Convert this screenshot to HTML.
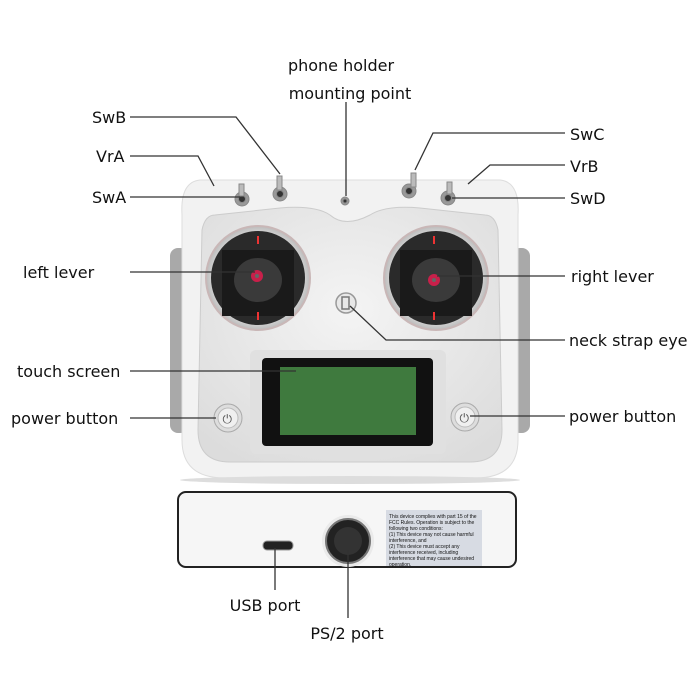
<!DOCTYPE html>
<html><head><meta charset="utf-8"><style>
html,body{margin:0;padding:0;background:#fff;}
svg{display:block;}
text{font-family:"DejaVu Sans","Liberation Sans",sans-serif;font-size:16px;fill:#111;}
</style></head><body>
<svg width="700" height="700" viewBox="0 0 700 700">
<defs>
<radialGradient id="body" cx="50%" cy="40%" r="70%"><stop offset="0" stop-color="#f4f4f4"/><stop offset="1" stop-color="#dcdcdc"/></radialGradient>
<radialGradient id="ring" cx="50%" cy="50%" r="50%"><stop offset="0.85" stop-color="#d8d8d8"/><stop offset="1" stop-color="#bbb"/></radialGradient>
</defs>
<rect x="170" y="248" width="18" height="185" rx="8" fill="#a9a9a9"/>
<rect x="512" y="248" width="18" height="185" rx="8" fill="#a9a9a9"/>
<path d="M200 180 Q180 182 182 215 L182 440 Q182 478 225 478 L475 478 Q518 478 518 440 L518 215 Q520 182 500 180 Z" fill="#f2f2f2" stroke="#ddd"/>
<path d="M215 215 Q205 215 202 230 L198 430 Q198 462 230 462 L470 462 Q502 462 502 430 L498 230 Q495 215 485 215 L420 208 Q385 205 370 215 Q345 228 330 215 Q315 205 280 208 Z" fill="url(#body)" stroke="#ccc"/>
<ellipse cx="350" cy="480" rx="170" ry="4" fill="#ddd"/>
<g>
<circle cx="258" cy="278" r="52" fill="url(#ring)" stroke="#c9b7b7" stroke-width="2"/>
<circle cx="258" cy="278" r="47" fill="#2a2a2a"/>
<rect x="222" y="250" width="72" height="66" fill="#1a1a1a"/>
<ellipse cx="258" cy="280" rx="24" ry="22" fill="#3a3a3a"/>
<circle cx="257" cy="276" r="6" fill="#c8204a"/><circle cx="257" cy="276" r="2" fill="#666"/>
<rect x="257" y="236" width="2" height="8" fill="#e33"/><rect x="257" y="312" width="2" height="8" fill="#e33"/>
</g>
<g>
<circle cx="436" cy="278" r="52" fill="url(#ring)" stroke="#c9b7b7" stroke-width="2"/>
<circle cx="436" cy="278" r="47" fill="#2a2a2a"/>
<rect x="400" y="250" width="72" height="66" fill="#1a1a1a"/>
<ellipse cx="436" cy="280" rx="24" ry="22" fill="#3a3a3a"/>
<circle cx="434" cy="280" r="6" fill="#c8204a"/><circle cx="434" cy="280" r="2" fill="#666"/>
<rect x="433" y="236" width="2" height="8" fill="#e33"/><rect x="433" y="312" width="2" height="8" fill="#e33"/>
</g>
<circle cx="346" cy="303" r="10" fill="#e8e8e8" stroke="#999" stroke-width="1.5"/>
<rect x="342" y="297" width="7" height="12" fill="none" stroke="#777" stroke-width="1.5"/>
<rect x="250" y="350" width="196" height="104" rx="6" fill="#e0e0e0"/>
<rect x="262" y="358" width="171" height="88" rx="4" fill="#111"/>
<rect x="280" y="367" width="136" height="68" fill="#3f7a3e"/>
<circle cx="228" cy="418" r="14" fill="#ddd" stroke="#aaa"/><circle cx="228" cy="418" r="10" fill="#f0f0f0" stroke="#bbb"/>
<text x="222.5" y="423" style="font-size:12px;fill:#555">⏻</text>
<circle cx="465" cy="417" r="14" fill="#ddd" stroke="#aaa"/><circle cx="465" cy="417" r="10" fill="#f0f0f0" stroke="#bbb"/>
<text x="459.5" y="422" style="font-size:12px;fill:#555">⏻</text>
<g stroke="#888">
<circle cx="242" cy="199" r="7" fill="#999"/><circle cx="242" cy="199" r="3.5" fill="#333"/><rect x="239" y="184" width="5" height="12" fill="#bbb"/>
<circle cx="280" cy="194" r="7" fill="#999"/><circle cx="280" cy="194" r="3.5" fill="#333"/><rect x="277" y="176" width="5" height="14" fill="#bbb"/>
<circle cx="345" cy="201" r="4" fill="#999"/><circle cx="345" cy="201" r="2" fill="#333"/>
<circle cx="409" cy="191" r="7" fill="#999"/><circle cx="409" cy="191" r="3.5" fill="#333"/><rect x="411" y="173" width="5" height="14" fill="#bbb"/>
<circle cx="448" cy="198" r="7" fill="#999"/><circle cx="448" cy="198" r="3.5" fill="#333"/><rect x="447" y="182" width="5" height="12" fill="#bbb"/>
</g>
<rect x="178" y="492" width="338" height="75" rx="8" fill="#f6f6f6" stroke="#222" stroke-width="2"/>
<rect x="263" y="541" width="30" height="9" rx="4" fill="#222" stroke="#999"/>
<circle cx="348" cy="541" r="26" fill="#eaeaea"/>
<circle cx="348" cy="541" r="22" fill="#222" stroke="#777" stroke-width="2"/>
<circle cx="348" cy="541" r="14" fill="#333"/>
<rect x="386" y="510" width="96" height="56" fill="#d7dbe3"/>
<g>
<text x="389" y="518" style="font-size:5px;font-family:'Liberation Sans'">This device complies with part 15 of the</text>
<text x="389" y="524" style="font-size:5px;font-family:'Liberation Sans'">FCC Rules. Operation is subject to the</text>
<text x="389" y="530" style="font-size:5px;font-family:'Liberation Sans'">following two conditions:</text>
<text x="389" y="536" style="font-size:5px;font-family:'Liberation Sans'">(1) This device may not cause harmful</text>
<text x="389" y="542" style="font-size:5px;font-family:'Liberation Sans'">interference, and</text>
<text x="389" y="548" style="font-size:5px;font-family:'Liberation Sans'">(2) This device must accept any</text>
<text x="389" y="554" style="font-size:5px;font-family:'Liberation Sans'">interference received, including</text>
<text x="389" y="560" style="font-size:5px;font-family:'Liberation Sans'">interference that may cause undesired</text>
<text x="389" y="566" style="font-size:5px;font-family:'Liberation Sans'">operation.</text>
</g>
<g stroke="#333" stroke-width="1.3" fill="none">
<line x1="346" y1="102" x2="346" y2="196"/>
<polyline points="130,117 236,117 280,174"/>
<polyline points="130,156 198,156 214,186"/>
<line x1="130" y1="197" x2="240" y2="197"/>
<polyline points="565,133 433,133 415,170"/>
<polyline points="565,165 490,165 468,184"/>
<line x1="452" y1="198" x2="565" y2="198"/>
<line x1="130" y1="272" x2="255" y2="272"/>
<line x1="437" y1="276" x2="565" y2="276"/>
<polyline points="350,306 386,340 565,340"/>
<line x1="130" y1="371" x2="296" y2="371"/>
<line x1="130" y1="418" x2="216" y2="418"/>
<line x1="470" y1="416" x2="565" y2="416"/>
<line x1="275" y1="548" x2="275" y2="590"/>
<line x1="348" y1="550" x2="348" y2="618"/>
</g>
<text x="341" y="71" text-anchor="middle">phone holder</text>
<text x="350" y="99" text-anchor="middle">mounting point</text>
<text x="92" y="123">SwB</text>
<text x="96" y="162">VrA</text>
<text x="92" y="203">SwA</text>
<text x="570" y="140">SwC</text>
<text x="570" y="172">VrB</text>
<text x="570" y="204">SwD</text>
<text x="23" y="278">left lever</text>
<text x="571" y="282">right lever</text>
<text x="569" y="346">neck strap eye</text>
<text x="17" y="377">touch screen</text>
<text x="11" y="424">power button</text>
<text x="569" y="422">power button</text>
<text x="265" y="611" text-anchor="middle">USB port</text>
<text x="347" y="639" text-anchor="middle">PS/2 port</text>
</svg>
</body></html>
